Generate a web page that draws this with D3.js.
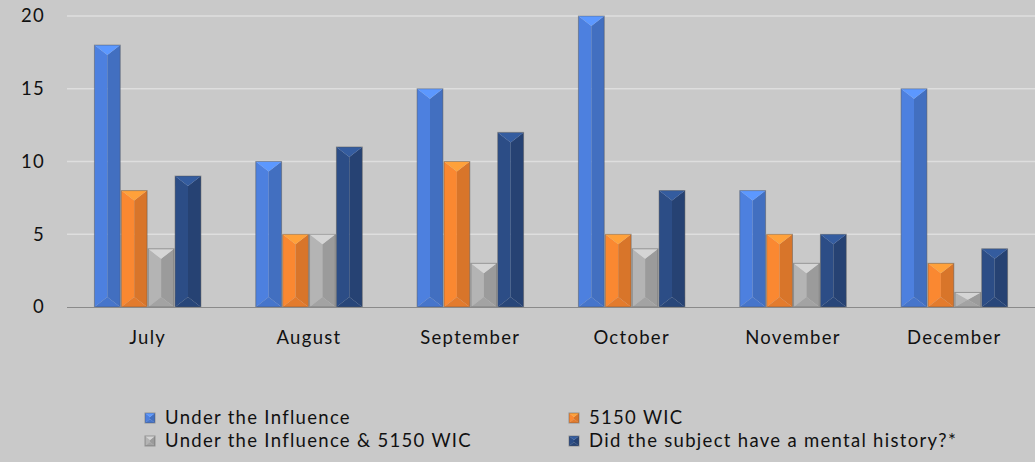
<!DOCTYPE html>
<html>
<head>
<meta charset="utf-8">
<script src="https://cdn.jsdelivr.net/npm/d3@7"></script>
<style>
  html, body { margin: 0; padding: 0; background: #c9c9c9; }
  svg { display: block; font-family: Lato, "Open Sans", sans-serif; }
</style>
</head>
<body>
<svg id="chart" width="1035" height="462"></svg>
<script>
const months = ["July", "August", "September", "October", "November", "December"];
const seriesNames = ["Under the Influence", "5150 WIC", "Under the Influence & 5150 WIC", "Did the subject have a mental history?*"];
const underInfluence = [18, 10, 15, 20, 8, 15];
const wic5150 = [8, 5, 10, 5, 5, 3];
const bothInfluenceWic = [4, 5, 3, 4, 3, 1];
const mentalHistory = [9, 11, 12, 8, 5, 4];
const yTicks = [0, 5, 10, 15, 20];
const colors = ["#4a7bd6", "#f0822f", "#acacac", "#2a4a80"];

const allSeries = [underInfluence, wic5150, bothInfluenceWic, mentalHistory];

const svg = d3.select("#chart");
const width = +svg.attr("width");
const fontSize = 18.5;
const spacing = "1.3px";

const x0 = d3.scaleBand().domain(months).range([67, width]).paddingInner(0.34).paddingOuter(0.17);
const x1 = d3.scaleBand().domain(d3.range(seriesNames.length)).range([0, x0.bandwidth()]).paddingInner(0.04);
const y = d3.scaleLinear().domain([0, 20]).range([307, 16]);

svg.append("rect").attr("width", width).attr("height", 462).attr("fill", "#c9c9c9");

// gridlines
svg.append("g").selectAll("line")
  .data(yTicks.filter(d => d > 0))
  .join("line")
  .attr("x1", 67).attr("x2", width)
  .attr("y1", d => y(d)).attr("y2", d => y(d))
  .attr("stroke", "#dedede").attr("stroke-width", 1.3);

// y labels
svg.append("g").selectAll("text")
  .data(yTicks)
  .join("text")
  .attr("x", 45).attr("y", d => y(d))
  .attr("dy", "0.35em")
  .attr("text-anchor", "end")
  .attr("font-size", fontSize)
  .attr("letter-spacing", spacing)
  .attr("fill", "#111")
  .text(d => d);

// beveled bar: pyramid-like facets (top V light, left lighter, right darker, bottom dark)
function bevelBar(g, bx, by, bw, bh, color, maxDepth) {
  const c = d3.color(color);
  const h = bw / 2;
  const v = Math.min(maxDepth, bh / 2);
  const cx = bx + h;
  const poly = (pts, fill) => g.append("path")
    .attr("d", "M" + pts.map(p => p.join(",")).join("L") + "Z")
    .attr("fill", fill);
  poly([[bx, by], [cx, by + v], [cx, by + bh - v], [bx, by + bh]], c.brighter(0.12));
  poly([[bx + bw, by], [cx, by + v], [cx, by + bh - v], [bx + bw, by + bh]], c.darker(0.3));
  poly([[bx, by], [bx + bw, by], [cx, by + v]], c.brighter(0.6));
  poly([[bx, by + bh], [bx + bw, by + bh], [cx, by + bh - v]], c.darker(0.15));
  g.append("rect").attr("x", bx).attr("y", by).attr("width", bw).attr("height", bh)
    .attr("fill", "none").attr("stroke", "rgba(80,80,80,0.45)").attr("stroke-width", 1);
}

const bars = svg.append("g");
months.forEach((m, i) => {
  allSeries.forEach((s, k) => {
    const bx = x0(m) + x1(k);
    bevelBar(bars, bx, y(s[i]), x1.bandwidth(), y(0) - y(s[i]), colors[k], 10);
  });
});

// x axis
svg.append("line").attr("x1", 67).attr("x2", width).attr("y1", y(0) + 0.5).attr("y2", y(0) + 0.5)
  .attr("stroke", "#8a8a8a").attr("stroke-width", 1.2);

svg.append("g").selectAll("text")
  .data(months)
  .join("text")
  .attr("x", d => x0(d) + x0.bandwidth() / 2)
  .attr("y", 344)
  .attr("text-anchor", "middle")
  .attr("font-size", fontSize)
  .attr("letter-spacing", spacing)
  .attr("fill", "#111")
  .text(d => d);

// legend
const legendPos = [[145, 418], [569, 418], [145, 441], [569, 441]];
const legend = svg.append("g");
seriesNames.forEach((name, k) => {
  const [lx, ly] = legendPos[k];
  bevelBar(legend, lx, ly - 5, 10, 10, colors[k], 4);
  legend.append("text")
    .attr("x", lx + 20).attr("y", ly)
    .attr("dy", "0.35em")
    .attr("font-size", fontSize)
    .attr("letter-spacing", spacing)
    .attr("fill", "#111")
    .text(name);
});
</script>
</body>
</html>
